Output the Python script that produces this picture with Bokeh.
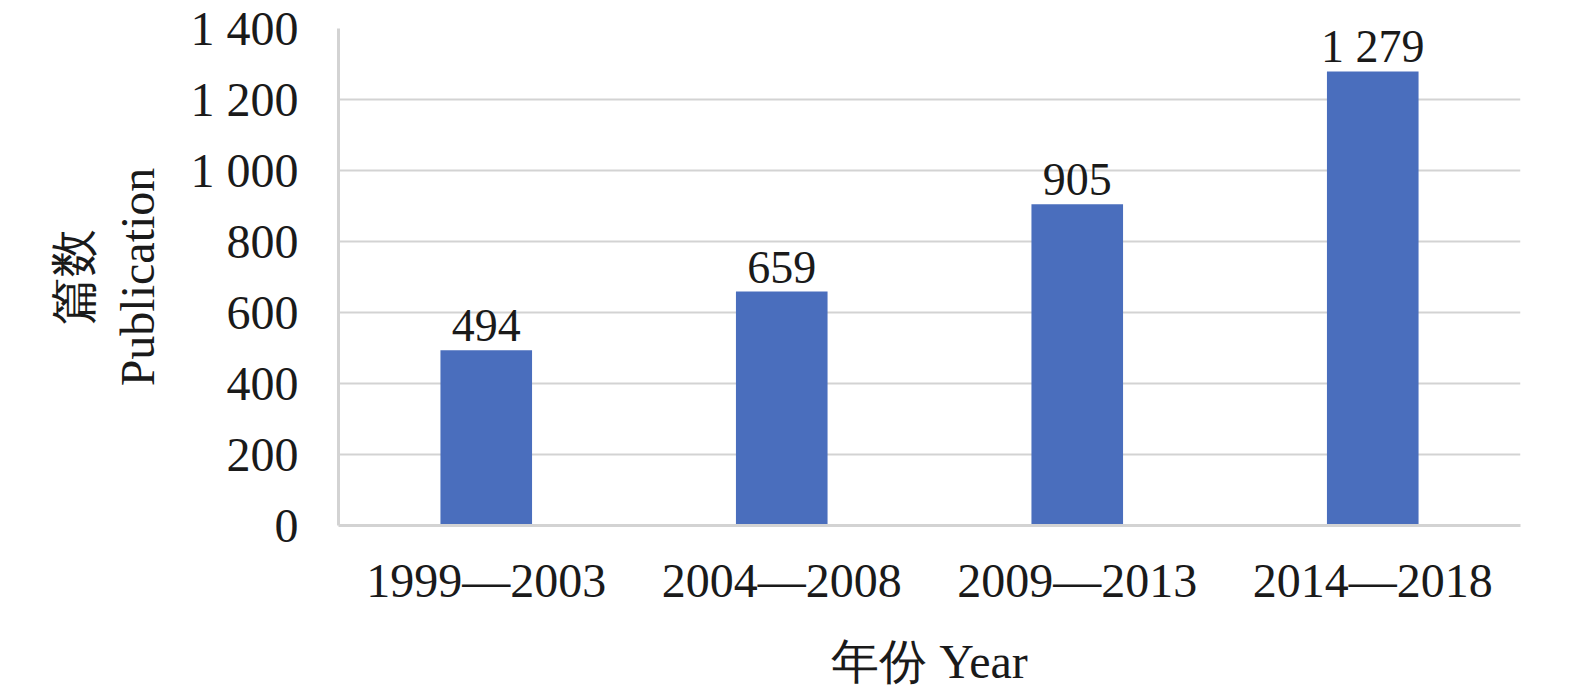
from bokeh.plotting import figure
from bokeh.models import ColumnDataSource, FixedTicker, LabelSet
from bokeh.embed import file_html
from bokeh.resources import INLINE

categories = ["1999—2003", "2004—2008", "2009—2013", "2014—2018"]
values = [494, 659, 905, 1279]
labels = ["494", "659", "905", "1 279"]
y_ticks = [0, 200, 400, 600, 800, 1000, 1200, 1400]
y_tick_labels = ["0", "200", "400", "600", "800", "1 000", "1 200", "1 400"]

FONT = "Liberation Serif"
GRAY = "#d3d3d3"

src = ColumnDataSource(dict(cat=categories, val=values, lab=labels))

p = figure(x_range=categories, y_range=(0, 1400),
           output_backend="svg", toolbar_location=None,
           min_border_left=338, min_border_right=39, min_border_top=28, min_border_bottom=150)
p.frame_width = 1182
p.frame_height = 497
p.outline_line_color = None
p.background_fill_color = "white"
p.border_fill_color = "white"

p.vbar(x="cat", top="val", width=0.31, source=src, fill_color="#4a6ebd", line_color=None)

p.add_layout(LabelSet(x="cat", y="val", text="lab", source=src, text_align="center",
                      text_baseline="alphabetic", y_offset=9, text_font=FONT,
                      text_font_size="46px", text_color="#1a1a1a"))

p.xgrid.grid_line_color = None
p.ygrid.grid_line_color = GRAY
p.ygrid.grid_line_width = 2
p.yaxis.ticker = FixedTicker(ticks=y_ticks)
p.yaxis.major_label_overrides = {t: l for t, l in zip(y_ticks, y_tick_labels)}

for ax in (p.xaxis[0], p.yaxis[0]):
    ax.axis_line_color = GRAY
    ax.axis_line_width = 3
    ax.major_tick_line_color = None
    ax.minor_tick_line_color = None
    ax.major_label_text_font = FONT
    ax.major_label_text_font_size = "48px"
    ax.major_label_text_color = "#1a1a1a"
    ax.axis_label_text_font = FONT
    ax.axis_label_text_font_size = "48px"
    ax.axis_label_text_font_style = "normal"
    ax.axis_label_text_color = "#1a1a1a"

p.yaxis.major_label_standoff = 34
p.yaxis.axis_label = "篇数\nPublication"
p.yaxis.axis_label_standoff = 24
p.xaxis.major_label_standoff = 22
p.xaxis.axis_label = "年份 Year"
p.xaxis.axis_label_standoff = 25
p.x_range.range_padding = 0

open("out.html", "w").write(file_html(p, INLINE))
